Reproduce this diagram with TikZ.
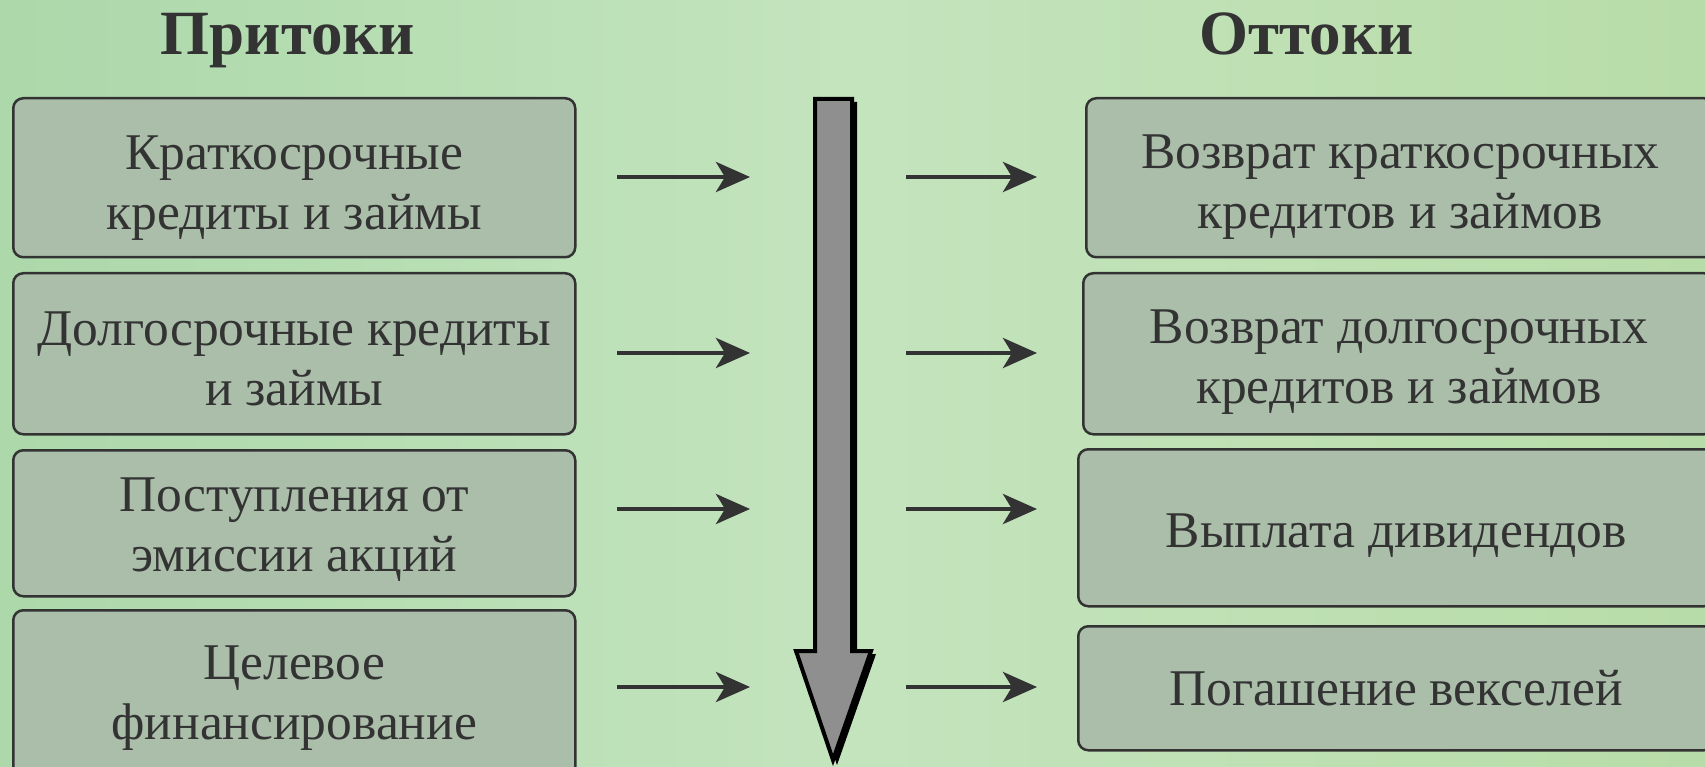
\documentclass[tikz,border=0pt]{standalone}
\usepackage{fontspec}
\setmainfont{Liberation Serif}
\usetikzlibrary{arrows.meta}
\definecolor{bgA}{RGB}{172,216,170}
\definecolor{bgB}{RGB}{196,228,190}
\definecolor{bgC}{RGB}{184,220,168}
\definecolor{boxfill}{RGB}{170,190,170}
\definecolor{ink}{RGB}{51,51,51}
\definecolor{shaft}{RGB}{143,143,143}
\tikzset{
  box/.style={draw=ink, line width=2.5pt, fill=boxfill, rounded corners=10pt,
    inner sep=0pt, anchor=north west},
  boxtext/.style={inner sep=0pt, align=center, text=ink,
    font=\fontsize{51.5}{60}\selectfont},
  title/.style={text=ink, font=\fontsize{63}{70}\selectfont\bfseries, inner sep=0pt},
  smallarrow/.style={draw=ink, line width=4.5pt,
    -{Stealth[length=34pt,width=30pt,inset=9pt]}},
}
\begin{document}
\begin{tikzpicture}[x=1pt,y=-1pt]
\useasboundingbox (0,0) rectangle (1705,767);
\clip (0,0) rectangle (1705,767);
\shade[left color=bgA, right color=bgC, middle color=bgB] (0,0) rectangle (1705,767);

% titles
\node[title, anchor=base] (tin) at (288,55) {Притоки};
\node[title, anchor=base] (tout) at (1307,55) {Оттоки};

% left boxes
\node[box, minimum width=562pt, minimum height=159pt] (l1) at (12,97) {};
\node[box, minimum width=562pt, minimum height=161pt] (l2) at (12,272) {};
\node[box, minimum width=562pt, minimum height=146pt] (l3) at (12,449) {};
\node[box, minimum width=562pt, minimum height=170pt] (l4) at (12,609) {};
\node[boxtext] (l1t) at ([yshift=-10pt]l1.center) {Краткосрочные\\кредиты и займы};
\node[boxtext] (l2t) at ([yshift=-5pt]l2.center) {Долгосрочные кредиты\\и займы};
\node[boxtext] (l3t) at ([yshift=-6pt]l3.center) {Поступления от\\эмиссии акций};
\node[boxtext] (l4t) at ([yshift=-3pt]l4.center) {Целевое\\финансирование};

% right boxes
\node[box, minimum width=628pt, minimum height=159pt] (r1) at (1085,97) {};
\node[box, minimum width=631pt, minimum height=161pt] (r2) at (1082,272) {};
\node[box, minimum width=636pt, minimum height=157pt] (r3) at (1077,448) {};
\node[box, minimum width=636pt, minimum height=124pt] (r4) at (1077,625) {};
\node[boxtext] (r1t) at ([yshift=-9pt]r1.center) {Возврат краткосрочных\\кредитов и займов};
\node[boxtext] (r2t) at ([yshift=-8pt]r2.center) {Возврат долгосрочных\\кредитов и займов};
\node[boxtext] (r3t) at ([yshift=-8pt]r3.center) {Выплата дивидендов};
\node[boxtext] (r4t) at (r4.center) {Погашение векселей};

% small arrows
\foreach \i/\y in {1/177, 2/353, 3/509, 4/687} {
  \coordinate (ls\i) at (617,\y);
  \coordinate (le\i) at (750,\y);
  \coordinate (rs\i) at (906,\y);
  \coordinate (re\i) at (1037,\y);
  \draw[smallarrow] (ls\i) -- (le\i);
  \draw[smallarrow] (rs\i) -- (re\i);
}

% big down arrow (shadow + arrow)
\fill[black] (818,102) -- (857,102) -- (857,654) -- (876,654) -- (837,765) -- (799,654) -- (818,654) -- cycle;
\draw[black, line width=4pt, fill=shaft, line join=miter]
  (815,99) -- (852,99) -- (852,651) -- (871,651) -- (833,760) -- (796,651) -- (815,651) -- cycle;
\end{tikzpicture}
\end{document}
